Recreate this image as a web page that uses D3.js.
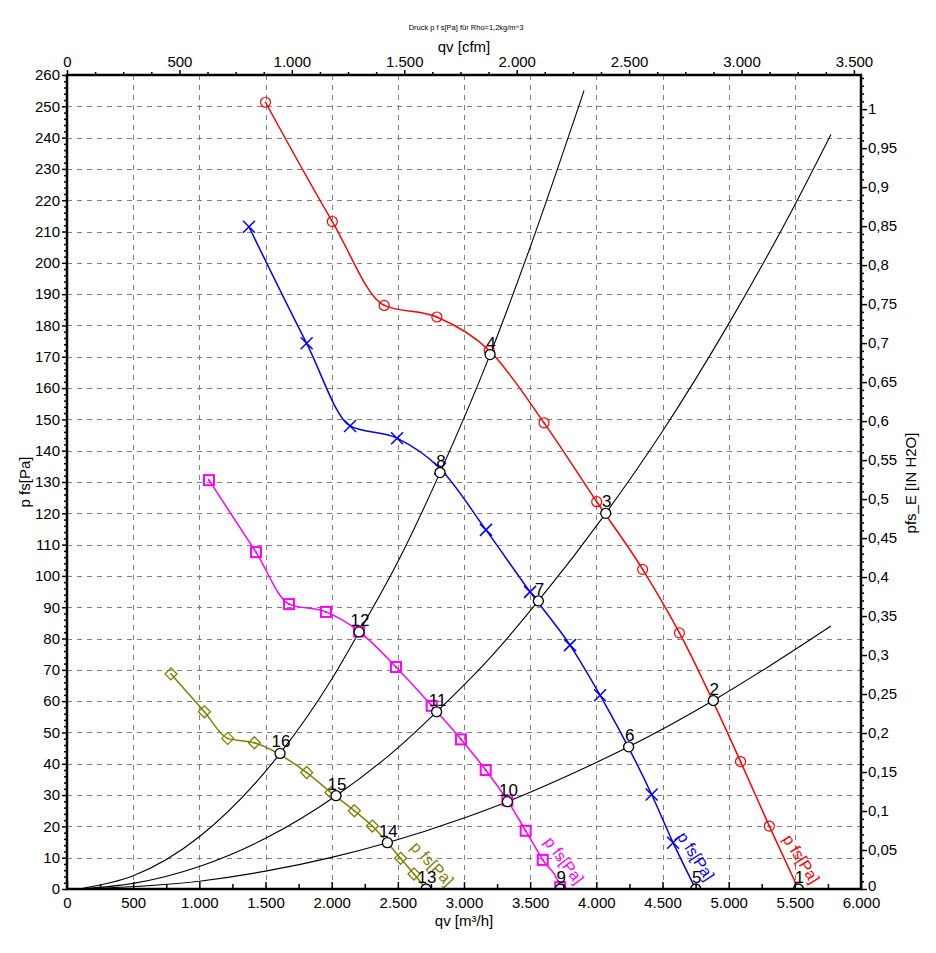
<!DOCTYPE html>
<html>
<head>
<meta charset="utf-8">
<script src="https://cdn.jsdelivr.net/npm/d3@7"></script>
<style>
  body { margin: 0; background: #fff; }
  svg { display: block; font-family: "Liberation Sans", Arial, sans-serif; }
</style>
</head>
<body>
<svg id="chart" width="936" height="953"></svg>
<script>
// ---------------- data ----------------
const titleText = "Druck p f s[Pa] für Rho=1,2kg/m^3";
const xLabel = "qv [m³/h]";
const xTopLabel = "qv [cfm]";
const yLabel = "p  fs[Pa]";
const yRightLabel = "pfs_E [IN H2O]";
const curveLabel = "p  fs[Pa]";

const xTicks = [0, 500, 1000, 1500, 2000, 2500, 3000, 3500, 4000, 4500, 5000, 5500, 6000];
const yTicks = [0, 10, 20, 30, 40, 50, 60, 70, 80, 90, 100, 110, 120, 130, 140, 150, 160, 170, 180, 190, 200, 210, 220, 230, 240, 250, 260];
const cfmTicks = [0, 500, 1000, 1500, 2000, 2500, 3000, 3500];
const inH2OTicks = [0, 0.05, 0.1, 0.15, 0.2, 0.25, 0.3, 0.35, 0.4, 0.45, 0.5, 0.55, 0.6, 0.65, 0.7, 0.75, 0.8, 0.85, 0.9, 0.95, 1];

// fan curves: marker points
const redQ = [1500, 2005, 2397, 2795, 3191, 3605, 4003, 4350, 4628, 5090, 5307];
const redP = [251.3, 213.2, 186.4, 182.7, 172.0, 148.9, 123.7, 102.1, 81.8, 40.7, 20.1];
const redEnd = [5527, 0];

const blueQ = [1375, 1811, 2139, 2494, 2819, 3166, 3499, 3801, 4028, 4418, 4580];
const blueP = [211.5, 174.3, 147.9, 144.0, 134.3, 114.7, 94.9, 77.9, 61.9, 30.2, 14.8];
const blueEnd = [4751, 0];

const magQ = [1073, 1428, 1678, 1957, 2207, 2486, 2756, 2977, 3164, 3328, 3466, 3595, 3727];
const magP = [130.6, 107.6, 91.0, 88.5, 82.3, 70.9, 58.5, 47.8, 38.0, 28.3, 18.6, 9.3, 0.6];
const magEnd = [3730, 0];

const oliveQ = [786, 1038, 1214, 1416, 1811, 1995, 2171, 2307, 2521, 2622];
const oliveP = [68.7, 56.6, 48.1, 46.7, 37.2, 30.8, 25.0, 20.1, 9.8, 4.8];
const oliveEnd = [2713, 0];

// system (resistance) curves
const sysAQ = [120, 500, 1000, 1610, 2000, 2207, 2500, 2819, 3197, 3500, 3907];
const sysAP = [0.2, 4.2, 16.7, 43.3, 67.0, 82.1, 104.5, 133.0, 170.7, 205.0, 255.0];
const sysBQ = [120, 500, 1000, 1500, 2033, 2500, 2793, 3200, 3562, 4071, 4500, 5000, 5500, 5773];
const sysBP = [0.1, 1.8, 7.2, 16.2, 29.8, 45.1, 56.6, 74.0, 92.0, 120.0, 146.2, 180.5, 218.5, 241.0];
const sysCQ = [120, 1000, 1500, 2000, 2421, 3000, 3328, 3800, 4244, 4884, 5300, 5773];
const sysCP = [0.04, 2.5, 5.7, 10.1, 14.8, 22.7, 27.9, 36.5, 45.4, 60.2, 71.0, 84.0];

// operating points
const opNum = ["1","2","3","4","5","6","7","8","9","10","11","12","13","14","15","16"];
const opQ = [5527, 4884, 4071, 3197, 4751, 4244, 3562, 2819, 3727, 3328, 2793, 2207, 2713, 2421, 2033, 1610];
const opP = [0, 60.2, 120.0, 170.7, 0, 45.4, 92.0, 133.0, 0, 27.9, 56.6, 82.1, 0, 14.8, 29.8, 43.3];

// curve label anchors (value coords) and angle
const labelQ = [5405, 4605, 3600, 2590];
const labelP = [16.0, 16.8, 15.0, 13.2];
const labelAngle = [58, 57, 53, 47];

// ---------------- setup ----------------
const M3H_PER_CFM = 1.69901;
const PA_PER_INH2O = 249.089;
const L = 67, R = 861, T = 75, B = 889;

const svg = d3.select("#chart");
const x = d3.scaleLinear().domain([0, 6000]).range([L, R]);
const y = d3.scaleLinear().domain([0, 260]).range([B, T]);
const xCfm = d3.scaleLinear().domain([0, 6000 / M3H_PER_CFM]).range([L, R]);
const yIn = d3.scaleLinear().domain([0, 260 / PA_PER_INH2O]).range([B, T]);

const de = d3.formatLocale({decimal: ",", thousands: ".", grouping: [3], currency: ["", "€"]});
const fInt = de.format(",");
const fDec = de.format(".2~f");

const defs = svg.append("defs");
defs.append("clipPath").attr("id", "plotClip")
  .append("rect").attr("x", L).attr("y", T).attr("width", R - L).attr("height", B - T);

// ---------------- grid ----------------
const grid = svg.append("g").attr("stroke", "#808080").attr("stroke-width", 1).attr("stroke-dasharray", "5,5");
grid.selectAll("line.v").data(xTicks.filter(v => v > 0 && v < 6000)).join("line")
  .attr("x1", d => Math.round(x(d)) + 0.5).attr("x2", d => Math.round(x(d)) + 0.5)
  .attr("y1", T).attr("y2", B);
grid.selectAll("line.h").data(yTicks.filter(v => v > 0 && v < 260)).join("line")
  .attr("x1", L).attr("x2", R)
  .attr("y1", d => Math.round(y(d)) + 0.5).attr("y2", d => Math.round(y(d)) + 0.5);

const plot = svg.append("g").attr("clip-path", "url(#plotClip)");

// ---------------- system curves ----------------
const lineMono = d3.line().x(d => x(d[0])).y(d => y(d[1])).curve(d3.curveMonotoneX);
[[sysAQ, sysAP], [sysBQ, sysBP], [sysCQ, sysCP]].forEach(([q, p]) => {
  plot.append("path").datum(q.map((v, i) => [v, p[i]]))
    .attr("d", lineMono).attr("fill", "none").attr("stroke", "#000").attr("stroke-width", 1.1);
});

// ---------------- fan curves ----------------
const fans = [
  {q: redQ, p: redP, end: redEnd, color: "#ff0000", marker: "circle"},
  {q: blueQ, p: blueP, end: blueEnd, color: "#0000ff", marker: "x"},
  {q: magQ, p: magP, end: magEnd, color: "#ff00ff", marker: "square"},
  {q: oliveQ, p: oliveP, end: oliveEnd, color: "#808000", marker: "diamond"}
];
fans.forEach((f, fi) => {
  const pts = f.q.map((v, i) => [v, f.p[i]]).concat([f.end]);
  plot.append("path").datum(pts).attr("d", lineMono)
    .attr("fill", "none").attr("stroke", f.color).attr("stroke-width", 1.5);
  const mk = plot.append("g").attr("stroke", f.color).attr("fill", "none");
  f.q.forEach((v, i) => {
    const cx = x(v), cy = y(f.p[i]);
    const g = mk.append("g").attr("transform", `translate(${cx},${cy})`);
    if (f.marker === "circle") {
      g.append("circle").attr("r", 5).attr("stroke-width", 1.2);
      g.append("circle").attr("r", 0.8).attr("fill", f.color).attr("stroke", "none");
    } else if (f.marker === "x") {
      g.append("path").attr("d", "M-6,-6L6,6M-6,6L6,-6").attr("stroke-width", 1.5);
    } else if (f.marker === "square") {
      g.append("rect").attr("x", -5).attr("y", -5).attr("width", 10).attr("height", 10).attr("stroke-width", 2);
      g.append("rect").attr("x", -1).attr("y", -1).attr("width", 2).attr("height", 2).attr("fill", f.color).attr("stroke", "none");
    } else {
      g.append("path").attr("d", "M0,-6L6,0L0,6L-6,0Z").attr("stroke-width", 1.3);
      g.append("circle").attr("r", 0.9).attr("fill", f.color).attr("stroke", "none");
    }
  });
  // curve label
  plot.append("text")
    .attr("transform", `translate(${x(labelQ[fi])},${y(labelP[fi])}) rotate(${labelAngle[fi]})`)
    .attr("fill", f.color).attr("font-size", 16).text(curveLabel);
});

// ---------------- operating points ----------------
const ops = opNum.map((n, i) => ({n, q: opQ[i], p: opP[i]}));
plot.selectAll("circle.op").data(ops).join("circle")
  .attr("cx", d => x(d.q)).attr("cy", d => y(d.p)).attr("r", 5)
  .attr("fill", "#fff").attr("stroke", "#000").attr("stroke-width", 1.3);
plot.selectAll("text.op").data(ops).join("text")
  .attr("x", d => x(d.q) + 1).attr("y", d => y(d.p) - 6)
  .attr("text-anchor", "middle").attr("font-size", 17).attr("fill", "#000")
  .text(d => d.n);

// ---------------- axes ----------------
function styleAxis(g) {
  g.select(".domain").remove();
  g.selectAll(".tick line").attr("stroke", "#000").attr("stroke-width", 1.5);
  g.selectAll(".tick text").attr("font-size", 15).attr("fill", "#000")
    .attr("font-family", "Liberation Sans, Arial, sans-serif");
}
// minor ticks
const minorY = d3.range(0, 261, 2).filter(v => v % 10 !== 0);
svg.append("g").attr("transform", `translate(${L},0)`)
  .call(d3.axisLeft(y).tickValues(minorY).tickSize(3).tickFormat("")).call(styleAxis);
const minorX = d3.range(250, 6000, 500);
svg.append("g").attr("transform", `translate(0,${B})`)
  .call(d3.axisBottom(x).tickValues(minorX).tickSize(-5).tickFormat("")).call(styleAxis);
const minorCfm = d3.range(0, 3501, 125).filter(v => v % 500 !== 0);
svg.append("g").attr("transform", `translate(0,${T})`)
  .call(d3.axisTop(xCfm).tickValues(minorCfm).tickSize(3).tickFormat("")).call(styleAxis);
const minorIn = d3.range(0, 105).map(i => i / 100).filter((v, i) => i % 5 !== 0);
svg.append("g").attr("transform", `translate(${R},0)`)
  .call(d3.axisRight(yIn).tickValues(minorIn).tickSize(3).tickFormat("")).call(styleAxis);

// major ticks
svg.append("g").attr("transform", `translate(${L},0)`)
  .call(d3.axisLeft(y).tickValues(yTicks).tickSize(5).tickPadding(2).tickFormat(fInt)).call(styleAxis);
svg.append("g").attr("transform", `translate(0,${B})`)
  .call(d3.axisBottom(x).tickValues(xTicks).tickSize(-7).tickPadding(8).tickFormat(fInt)).call(styleAxis);
svg.append("g").attr("transform", `translate(0,${T})`)
  .call(d3.axisTop(xCfm).tickValues(cfmTicks).tickSize(5).tickPadding(3).tickFormat(fInt)).call(styleAxis);
const rightAxis = svg.append("g").attr("transform", `translate(${R},0)`)
  .call(d3.axisRight(yIn).tickValues(inH2OTicks).tickSize(6).tickPadding(1).tickFormat(fDec)).call(styleAxis);
// lift the bottom "0" slightly so it clears the 6.000 label
rightAxis.selectAll(".tick").filter(d => d === 0).select("text").attr("dy", "0.1em");

// frame
svg.append("rect").attr("x", L).attr("y", T).attr("width", R - L).attr("height", B - T)
  .attr("fill", "none").attr("stroke", "#000").attr("stroke-width", 2.5);

// ---------------- labels ----------------
svg.append("text").attr("x", 466).attr("y", 30).attr("text-anchor", "middle")
  .attr("font-size", 7.5).attr("fill", "#000").text(titleText);
svg.append("text").attr("x", 464).attr("y", 52).attr("text-anchor", "middle")
  .attr("font-size", 15).attr("fill", "#000").text(xTopLabel);
svg.append("text").attr("x", 464).attr("y", 926).attr("text-anchor", "middle")
  .attr("font-size", 15).attr("fill", "#000").text(xLabel);
svg.append("text").attr("transform", "translate(30,482) rotate(-90)").attr("text-anchor", "middle")
  .attr("font-size", 15).attr("fill", "#000").text(yLabel);
svg.append("text").attr("transform", "translate(916,483) rotate(-90)").attr("text-anchor", "middle")
  .attr("font-size", 15).attr("fill", "#000").text(yRightLabel);
</script>
</body>
</html>
